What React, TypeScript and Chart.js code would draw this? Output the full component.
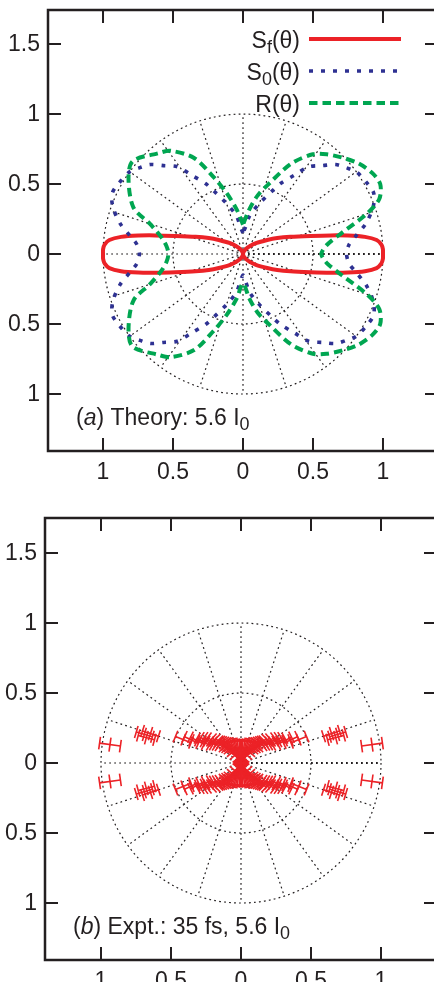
import React, { useEffect, useRef } from "react";
import { Chart, registerables } from "chart.js";
Chart.register(...registerables);

// ---------- axes ----------
const xTicks = [-1, -0.5, 0, 0.5, 1];
const yTicks = [-1, -0.5, 0, 0.5, 1, 1.5];
const gridRadii = [0.5, 1];
const spokeAngles = [0, 18, 36, 54, 72, 90, 108, 126, 144, 162, 180, 198, 216, 234, 252, 270, 288, 306, 324, 342];

// ---------- panel (a): theory, upper half (θ in degrees, r) ----------
const sfTheta = [0, 2, 4, 6, 8, 10, 12, 15, 20, 25, 30, 40, 50, 60, 75, 90, 105, 120, 130, 140, 150, 155, 160, 165, 168, 170, 172, 174, 176, 178, 180];
const sfR = [1.0, 1.0, 0.99, 0.96, 0.88, 0.76, 0.64, 0.5, 0.36, 0.27, 0.2, 0.12, 0.07, 0.04, 0.015, 0, 0.015, 0.04, 0.07, 0.12, 0.2, 0.27, 0.36, 0.5, 0.64, 0.76, 0.88, 0.96, 0.99, 1.0, 1.0];

const s0Theta = [0, 5, 9, 14, 20, 25, 30, 36, 40, 44, 48, 53, 57, 62, 65, 72, 80, 85, 90, 95, 100, 108, 115, 118, 123, 127, 132, 136, 140, 144, 150, 155, 160, 166, 171, 175, 180];
const s0R = [0.74, 0.76, 0.815, 0.905, 0.99, 1.03, 1.02, 1.0, 0.96, 0.92, 0.85, 0.78, 0.67, 0.57, 0.5, 0.38, 0.28, 0.19, 0.15, 0.19, 0.28, 0.38, 0.5, 0.57, 0.67, 0.78, 0.85, 0.92, 0.96, 1.0, 1.02, 1.03, 0.99, 0.905, 0.815, 0.76, 0.74];

const rTheta = [0, 6, 12, 18, 22, 27, 32, 38, 44, 50, 55, 62, 70, 76, 82, 90, 98, 105, 111, 117, 125, 130, 140, 147, 157, 162, 168, 174, 180];
const rR = [0.56, 0.6, 0.72, 0.93, 1.05, 1.1, 1.09, 1.05, 0.99, 0.93, 0.87, 0.73, 0.53, 0.43, 0.32, 0.21, 0.32, 0.45, 0.59, 0.77, 0.9, 0.94, 1.03, 0.975, 0.85, 0.7, 0.6, 0.55, 0.533];

// ---------- panel (b): experiment, first-quadrant angle φ (deg), r, errors ----------
const exptPhi = [8, 15, 16.5, 18, 22, 25, 27, 29.5, 32.5, 35, 37.5, 41, 44, 46, 48, 50, 53, 56, 60, 64, 68, 72, 76, 80, 85, 89];
const exptR = [0.945, 0.7, 0.72, 0.68, 0.445, 0.39, 0.35, 0.31, 0.29, 0.27, 0.25, 0.22, 0.2, 0.18, 0.16, 0.14, 0.12, 0.11, 0.095, 0.085, 0.075, 0.065, 0.06, 0.055, 0.05, 0.05];
const exptRadErr = [0.075, 0.06, 0.06, 0.06, 0.06, 0.055, 0.055, 0.05, 0.05, 0.05, 0.05, 0.05, 0.05, 0.05, 0.06, 0.07, 0.08, 0.08, 0.09, 0.09, 0.1, 0.1, 0.1, 0.11, 0.11, 0.11];
const exptAngErr = [0.05, 0.05, 0.05, 0.05, 0.045, 0.045, 0.045, 0.045, 0.045, 0.045, 0.045, 0.045, 0.045, 0.045, 0.045, 0.04, 0.04, 0.035, 0.035, 0.03, 0.03, 0.03, 0.03, 0.03, 0.03, 0.03];

// ---------- styling ----------
const FONT = '"Liberation Sans", Arial, Helvetica, sans-serif';
const INK = "#231f20";
const RED = "#ec2227";
const BLUE = "#2e3192";
const GREEN = "#00a651";
const FS = 23;
const D = Math.PI / 180;

type Part = { t: string; italic?: boolean; sub?: boolean };

function closedCurve(thetaUpper: number[], rUpper: number[]) {
  const thLow = thetaUpper.slice().reverse().slice(1).map((t) => 360 - t);
  const rLow = rUpper.slice().reverse().slice(1);
  const th = thetaUpper.concat(thLow);
  const rr = rUpper.concat(rLow);
  let k = th.indexOf(90);
  if (k < 0) k = 0;
  const thR = th.slice(k).concat(th.slice(1, k + 1));
  const rRot = rr.slice(k).concat(rr.slice(1, k + 1));
  return thR.map((t, i) => ({ x: rRot[i] * Math.cos(t * D), y: rRot[i] * Math.sin(t * D) }));
}

function setFont(ctx: CanvasRenderingContext2D, size: number, italic?: boolean) {
  ctx.font = `${italic ? "italic " : ""}${size}px ${FONT}`;
}

function drawRich(ctx: CanvasRenderingContext2D, parts: Part[], x: number, y: number, align: "left" | "right") {
  const widths = parts.map((p) => {
    setFont(ctx, p.sub ? FS * 0.78 : FS, p.italic);
    return ctx.measureText(p.t).width;
  });
  const total = widths.reduce((a, b) => a + b, 0);
  let cx = align === "right" ? x - total : x;
  ctx.textAlign = "left";
  ctx.textBaseline = "alphabetic";
  ctx.fillStyle = INK;
  parts.forEach((p, i) => {
    setFont(ctx, p.sub ? FS * 0.78 : FS, p.italic);
    ctx.fillText(p.t, cx, p.sub ? y + 5 : y);
    cx += widths[i];
  });
}

type LegendItem = { parts: Part[]; color: string; dash: number[]; width: number };

function decorPlugin(label: Part[], legend: LegendItem[] | null, errors: boolean) {
  return {
    id: "decor",
    beforeDatasetsDraw(chart: any) {
      const { ctx, scales } = chart;
      const x = scales.x, y = scales.y;
      const cx = x.getPixelForValue(0), cy = y.getPixelForValue(0);
      ctx.save();
      ctx.strokeStyle = INK;
      ctx.lineCap = "butt";
      ctx.setLineDash([1.8, 3.2]);
      ctx.lineWidth = 1.2;
      for (const r of gridRadii) {
        const rp = x.getPixelForValue(r) - cx;
        ctx.beginPath();
        ctx.arc(cx, cy, rp, 0, Math.PI * 2);
        ctx.stroke();
      }
      for (const a of spokeAngles) {
        const ex = x.getPixelForValue(Math.cos(a * D));
        const ey = y.getPixelForValue(Math.sin(a * D));
        ctx.lineWidth = a === 0 ? 2.2 : 1.2;
        ctx.beginPath();
        ctx.moveTo(cx, cy);
        ctx.lineTo(ex, ey);
        ctx.stroke();
      }
      ctx.restore();

      if (errors) {
        ctx.save();
        ctx.strokeStyle = RED;
        ctx.lineWidth = 1.6;
        ctx.setLineDash([]);
        const P = (X: number, Y: number) => [x.getPixelForValue(X), y.getPixelForValue(Y)];
        const seg = (a: number[], b: number[]) => {
          const p = P(a[0], a[1]), q = P(b[0], b[1]);
          ctx.beginPath();
          ctx.moveTo(p[0], p[1]);
          ctx.lineTo(q[0], q[1]);
          ctx.stroke();
        };
        const cap = 0.045;
        exptPhi.forEach((phi, i) => {
          const quads = [phi, 180 - phi, 180 + phi, 360 - phi];
          for (const th of quads) {
            const c = Math.cos(th * D), s = Math.sin(th * D);
            const r = exptR[i], dr = exptRadErr[i], dt = exptAngErr[i];
            const r1 = Math.max(r - dr, 0), r2 = r + dr;
            seg([r1 * c, r1 * s], [r2 * c, r2 * s]);
            seg([r1 * c - cap * s, r1 * s + cap * c], [r1 * c + cap * s, r1 * s - cap * c]);
            seg([r2 * c - cap * s, r2 * s + cap * c], [r2 * c + cap * s, r2 * s - cap * c]);
            seg([r * c - dt * s, r * s + dt * c], [r * c + dt * s, r * s - dt * c]);
          }
        });
        ctx.restore();
      }
    },
    afterDatasetsDraw(chart: any) {
      const { ctx, chartArea, scales } = chart;
      const x = scales.x, y = scales.y;
      const { left, right, top, bottom } = chartArea;
      ctx.save();
      ctx.setLineDash([]);
      ctx.strokeStyle = INK;
      ctx.lineWidth = 2.5;
      ctx.strokeRect(left, top, right - left, bottom - top);
      ctx.lineWidth = 2;
      const TL = 13;
      ctx.beginPath();
      for (const v of xTicks) {
        const px = x.getPixelForValue(v);
        ctx.moveTo(px, bottom);
        ctx.lineTo(px, bottom - TL);
        ctx.moveTo(px, top);
        ctx.lineTo(px, top + TL);
      }
      for (const v of yTicks) {
        const py = y.getPixelForValue(v);
        ctx.moveTo(left, py);
        ctx.lineTo(left + TL, py);
        ctx.moveTo(right, py);
        ctx.lineTo(right - TL, py);
      }
      ctx.stroke();

      ctx.fillStyle = INK;
      setFont(ctx, FS);
      ctx.textAlign = "center";
      ctx.textBaseline = "alphabetic";
      for (const v of xTicks) {
        ctx.fillText(String(Math.abs(v)), x.getPixelForValue(v), bottom + 28);
      }
      ctx.textAlign = "right";
      ctx.textBaseline = "middle";
      for (const v of yTicks) {
        ctx.fillText(String(Math.abs(v)), left - 8, y.getPixelForValue(v) + 1);
      }

      drawRich(ctx, label, left + 28, bottom - 26, "left");

      if (legend) {
        legend.forEach((it, i) => {
          const ly = top + 29 + i * 32;
          drawRich(ctx, it.parts, 300, ly + 9, "right");
          ctx.strokeStyle = it.color;
          ctx.lineWidth = it.width;
          ctx.setLineDash(it.dash);
          ctx.beginPath();
          ctx.moveTo(309, ly);
          ctx.lineTo(401, ly);
          ctx.stroke();
        });
      }
      ctx.restore();
    },
  };
}

function makeConfig(datasets: any[], xr: [number, number], yr: [number, number], padding: any, plugin: any) {
  return {
    type: "scatter" as const,
    data: { datasets },
    options: {
      animation: false as const,
      responsive: false,
      devicePixelRatio: 1,
      layout: { padding },
      plugins: { legend: { display: false }, tooltip: { enabled: false } },
      events: [],
      scales: {
        x: { type: "linear" as const, min: xr[0], max: xr[1], display: false },
        y: { type: "linear" as const, min: yr[0], max: yr[1], display: false },
      },
    },
    plugins: [plugin],
  };
}

const legendItems: LegendItem[] = [
  { parts: [{ t: "S" }, { t: "f", sub: true }, { t: "(θ)" }], color: RED, dash: [], width: 4 },
  { parts: [{ t: "S" }, { t: "0", sub: true }, { t: "(θ)" }], color: BLUE, dash: [4, 8], width: 3.6 },
  { parts: [{ t: "R(θ)" }], color: GREEN, dash: [8.5, 5], width: 4 },
];

export default function App() {
  const refA = useRef<HTMLCanvasElement>(null);
  const refB = useRef<HTMLCanvasElement>(null);

  useEffect(() => {
    const dsA = [
      { data: closedCurve(rTheta, rR), showLine: true, pointRadius: 0, borderColor: GREEN, borderWidth: 4, borderDash: [8.5, 5], tension: 0.3, fill: false },
      { data: closedCurve(s0Theta, s0R), showLine: true, pointRadius: 0, borderColor: BLUE, borderWidth: 3.6, borderDash: [4, 8], tension: 0.3, fill: false },
      { data: closedCurve(sfTheta, sfR), showLine: true, pointRadius: 0, borderColor: RED, borderWidth: 4, tension: 0.3, fill: false },
    ];
    const chartA = new Chart(
      refA.current!,
      makeConfig(
        dsA,
        [-1.393, 1.393],
        [-1.407, 1.743],
        { left: 48, top: 10, right: 12, bottom: 39 },
        decorPlugin([{ t: "(" }, { t: "a", italic: true }, { t: ") Theory: 5.6 I" }, { t: "0", sub: true }], legendItems, false)
      ) as any
    );
    const dsB = [
      {
        data: exptPhi.map((p, i) => ({ x: exptR[i] * Math.cos(p * D), y: exptR[i] * Math.sin(p * D) })),
        showLine: false,
        pointRadius: 0,
      },
    ];
    const chartB = new Chart(
      refB.current!,
      makeConfig(
        dsB,
        [-1.4, 1.4],
        [-1.407, 1.75],
        { left: 45, top: 28, right: 13, bottom: 22 },
        decorPlugin([{ t: "(" }, { t: "b", italic: true }, { t: ") Expt.: 35 fs, 5.6 I" }, { t: "0", sub: true }], null, true)
      ) as any
    );
    return () => {
      chartA.destroy();
      chartB.destroy();
    };
  }, []);

  return (
    <div style={{ position: "fixed", left: 0, top: 0, width: 434, height: 982, overflow: "hidden", background: "#fff" }}>
      <canvas ref={refA} width={450} height={490} style={{ position: "absolute", left: 0, top: 0, width: 450, height: 490 }} />
      <canvas ref={refB} width={450} height={492} style={{ position: "absolute", left: 0, top: 490, width: 450, height: 492 }} />
    </div>
  );
}
